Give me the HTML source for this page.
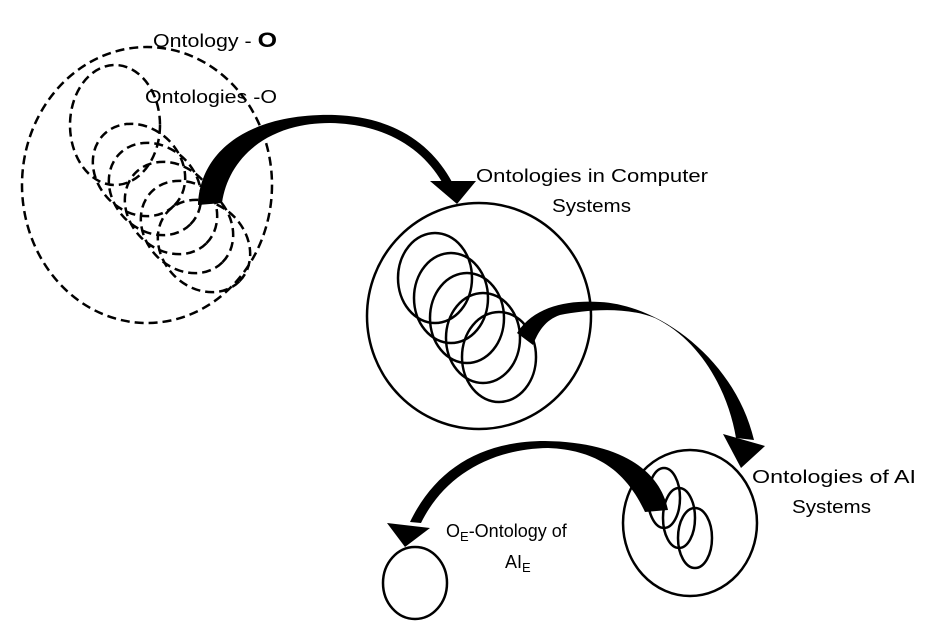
<!DOCTYPE html>
<html><head><meta charset="utf-8"><style>
html,body{margin:0;padding:0;background:#fff;}
svg{display:block;}
text{font-family:"Liberation Sans",sans-serif;font-size:18px;fill:#000;}
</style></head><body>
<svg width="931" height="629" viewBox="0 0 931 629" xmlns="http://www.w3.org/2000/svg">
<g fill="none" stroke="#000" stroke-width="2.5" stroke-dasharray="9,5">
<ellipse cx="147" cy="185" rx="125" ry="138"/>
<ellipse cx="115" cy="125" rx="45" ry="60"/>
<ellipse cx="0" cy="0" rx="50" ry="42" transform="translate(139,170) rotate(45)"/>
<ellipse cx="0" cy="0" rx="50" ry="42" transform="translate(155,189) rotate(45)"/>
<ellipse cx="0" cy="0" rx="50" ry="42" transform="translate(171,208) rotate(45)"/>
<ellipse cx="0" cy="0" rx="50" ry="42" transform="translate(187,227) rotate(45)"/>
<ellipse cx="0" cy="0" rx="50" ry="42" transform="translate(204,246) rotate(45)"/>
</g>
<g fill="none" stroke="#000" stroke-width="2.5">
<ellipse cx="479" cy="316" rx="112" ry="113"/>
<ellipse cx="435" cy="278" rx="37" ry="45"/>
<ellipse cx="451" cy="298" rx="37" ry="45"/>
<ellipse cx="467" cy="318" rx="37" ry="45"/>
<ellipse cx="483" cy="338" rx="37" ry="45"/>
<ellipse cx="499" cy="357" rx="37" ry="45"/>
<ellipse cx="690" cy="523" rx="67" ry="73"/>
<ellipse cx="664" cy="498" rx="16" ry="30"/>
<ellipse cx="679" cy="518" rx="16" ry="30"/>
<ellipse cx="695" cy="538" rx="17" ry="30"/>
<ellipse cx="415" cy="583" rx="32" ry="36"/>
</g>
<g fill="#000">
<path d="M198,205 C200,150 250,113 335,115 C395,117 432,145 452,182 L442,182 C422,148 385,124 330,123 C265,123 228,160 222,203 Z"/>
<polygon points="430,181 476,181 457,204"/>
<path d="M517,333 C535,305 570,300 600,302 C660,305 735,360 754,440 L736,438 C728,390 700,340 655,318 C625,306 585,310 560,315 C545,320 538,332 533,345 Z"/>
<polygon points="723,434 765,446 741,468"/>
<path d="M668,510 C660,470 620,442 545,441 C480,441 435,470 410,522 L421,523 C443,478 488,449 548,448 C605,450 630,480 645,512 Z"/>
<polygon points="387,523 430,528 405,547"/>
</g>
<text x="153" y="47" textLength="124" lengthAdjust="spacingAndGlyphs" font-size="19">Ontology - <tspan font-weight="bold" font-size="21">O</tspan></text>
<text x="145" y="103" textLength="132" lengthAdjust="spacingAndGlyphs" font-size="19">Ontologies -O</text>
<text x="476" y="182" textLength="232" lengthAdjust="spacingAndGlyphs">Ontologies in Computer</text>
<text x="552" y="212" textLength="79" lengthAdjust="spacingAndGlyphs">Systems</text>
<text x="752" y="483" textLength="164" lengthAdjust="spacingAndGlyphs">Ontologies of AI</text>
<text x="792" y="513" textLength="79" lengthAdjust="spacingAndGlyphs">Systems</text>
<text x="446" y="537" font-size="19">O<tspan font-size="13" dy="4">E</tspan><tspan dy="-4">-Ontology of</tspan></text>
<text x="505" y="568" font-size="19">AI<tspan font-size="13" dy="4">E</tspan></text>
</svg>
</body></html>
